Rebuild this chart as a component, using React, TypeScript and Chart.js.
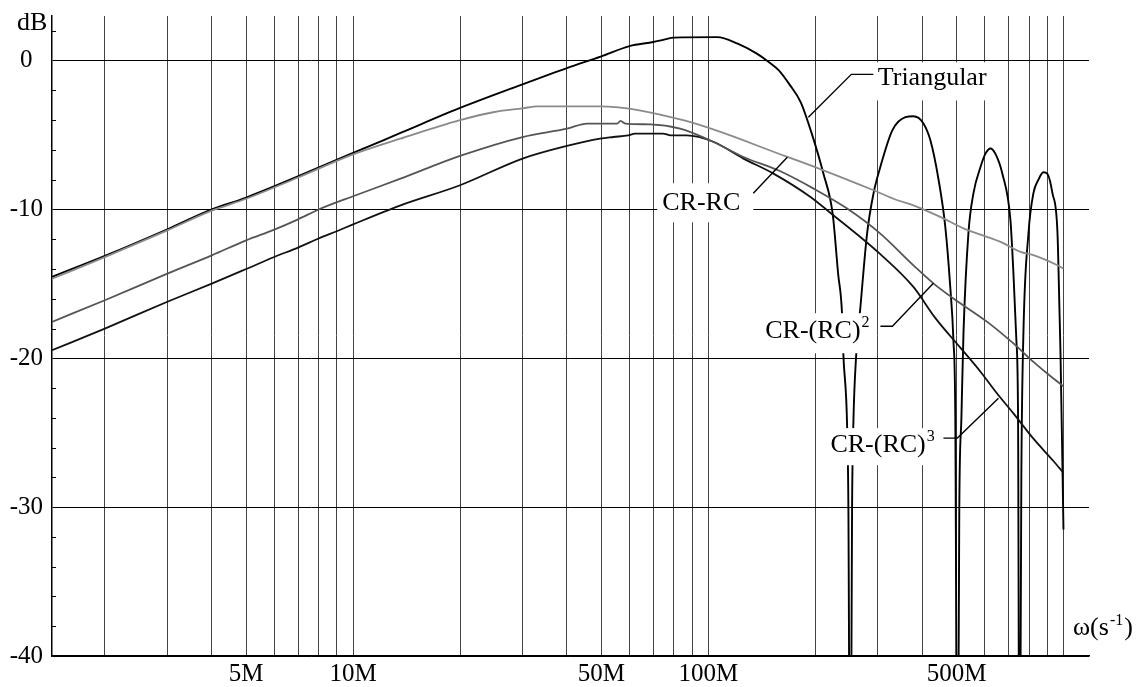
import React, { useEffect, useRef } from 'react';
import { Chart, registerables } from 'chart.js';

Chart.register(...registerables);

const FONT = "'Liberation Serif', 'Times New Roman', serif";

// x axis (frequency, in units of M = 10^6 s^-1)
const xMin = 1.42;
const xMax = 1180;
const xTickValues = [2, 3, 4, 5, 6, 7, 8, 9, 10, 20, 30, 40, 50, 60, 70, 80, 90, 100, 200, 300, 400, 500, 600, 700, 800, 900, 1000];
const xLabelValues = [5, 10, 50, 100, 500];
const xLabelTexts = ['5M', '10M', '50M', '100M', '500M'];

// y axis (dB)
const yMin = -40;
const yMax = 3;
const yTickValues = [-40, -38, -36, -34, -32, -30, -28, -26, -24, -22, -20, -18, -16, -14, -12, -10, -8, -6, -4, -2, 0, 2];
const yLabelValues = [0, -10, -20, -30, -40];

// Triangular
const triFreq = [1.42, 2, 3, 4, 5, 10, 13.6, 20, 30, 40, 50, 60, 70, 75, 80, 106, 121, 137, 148, 158, 170, 182, 195, 211, 224, 232, 238, 240, 246, 248, 251, 254, 256, 261, 268, 280, 292, 305, 330, 359, 378, 403, 422, 445, 465, 480, 490, 496, 503, 509, 516, 523, 540, 558, 584, 603, 623, 643, 673, 709, 723, 737, 745, 752, 761, 771, 797, 823, 850, 878, 901, 931, 962, 974, 981, 992, 1000];
const triDb = [-14.53, -13.12, -11.33, -10.0, -9.2, -6.2, -4.86, -3.18, -1.59, -0.5, 0.29, 0.98, 1.25, 1.41, 1.55, 1.58, 1.14, 0.47, -0.09, -0.65, -1.66, -2.78, -4.8, -7.6, -10.3, -14.3, -17.0, -19.7, -24.6, -30, -55, -30, -24.6, -19.7, -16.6, -11.6, -8.9, -7.15, -4.67, -3.8, -3.74, -4.2, -5.35, -8.0, -11.2, -15.2, -18.8, -24, -55, -30, -24, -18.3, -11.6, -8.9, -7.15, -6.25, -5.9, -6.25, -7.6, -10.7, -14.3, -18.8, -24, -55, -28, -18.5, -11.6, -8.9, -8.0, -7.5, -7.6, -8.9, -11.6, -16.6, -19.7, -26.4, -31.5];

// CR-RC
const crrcFreq = [1.42, 2, 3, 4, 5, 7, 10, 13.6, 20, 25, 30, 33, 49, 85, 167, 211, 292, 341, 378, 450, 523, 665, 757, 823, 962, 1000];
const crrcDb = [-14.65, -13.2, -11.4, -10.08, -9.28, -7.85, -6.3, -5.24, -4.0, -3.45, -3.2, -3.07, -3.07, -4.0, -6.47, -7.37, -8.71, -9.38, -9.72, -10.5, -11.27, -12.18, -12.85, -13.07, -13.75, -13.97];

// CR-(RC)^2
const rc2Freq = [1.42, 2, 3, 4, 5, 6, 7, 8, 10, 13.6, 20, 30, 40, 45.6, 55.4, 56.6, 58.4, 68.7, 83.3, 101, 125.6, 158.5, 198, 246, 305, 378, 431, 490, 610, 723, 823, 937, 1000];
const rc2Db = [-17.55, -16.1, -14.31, -13.08, -12.07, -11.35, -10.66, -10.0, -9.11, -7.93, -6.4, -5.13, -4.57, -4.23, -4.23, -4.05, -4.23, -4.28, -4.57, -5.35, -6.47, -7.4, -8.6, -9.94, -11.62, -13.75, -14.98, -15.98, -17.55, -19.0, -20.24, -21.36, -21.87];

// CR-(RC)^3
const rc3Freq = [1.42, 2, 3, 4, 5, 6, 7, 8, 9, 10, 13.6, 20, 30, 40, 49.6, 54, 59.5, 62.2, 74.5, 78.4, 87, 103.3, 125.6, 152.6, 194, 220, 305, 378, 436, 513, 584, 652, 723, 823, 937, 1000];
const rc3Db = [-19.46, -18.0, -16.2, -14.98, -14.0, -13.19, -12.56, -11.95, -11.46, -11.0, -9.72, -8.37, -6.58, -5.73, -5.24, -5.13, -5.02, -4.9, -4.9, -5.02, -5.02, -5.45, -6.58, -7.59, -9.16, -10.2, -13.0, -15.2, -17.3, -19.3, -20.9, -22.4, -23.7, -25.4, -26.9, -27.7];

// curve labels (anchors in data coordinates: [freq, dB])
const curveLabels = [
  { text: 'Triangular', sup: '', at: [300, -1.66], box: [295, 630, -0.11, -2.67], leader: [[291.6, -0.92], [252.8, -0.92], [191.3, -3.81]] },
  { text: 'CR-RC', sup: '', at: [74.2, -10.05], box: [71.8, 133.9, -8.24, -10.86], leader: [[133.9, -8.91], [166.9, -6.49]] },
  { text: 'CR-(RC)', sup: '2', at: [144.7, -18.64], box: [140.1, 297.4, -16.97, -19.66], leader: [[305.2, -17.84], [329.9, -17.84], [430.3, -14.96]] },
  { text: 'CR-(RC)', sup: '3', at: [220.7, -26.31], box: [213.6, 444.6, -24.69, -27.18], leader: [[459.2, -25.36], [502.8, -25.36], [656.1, -22.68]] },
];

const toPoints = (xs: number[], ys: number[]) => xs.map((x, i) => ({ x, y: ys[i] }));

const annotationPlugin = {
  id: 'curveAnnotations',
  afterDatasetsDraw(chart: any) {
    const ctx = chart.ctx;
    const xs = chart.scales.x;
    const ys = chart.scales.y;
    const px = (f: number) => xs.getPixelForValue(f);
    const py = (d: number) => ys.getPixelForValue(d);
    const area = chart.chartArea;
    ctx.save();
    // minor inward ticks on the dB axis
    ctx.strokeStyle = '#000';
    ctx.lineWidth = 1;
    yTickValues.forEach((v) => {
      if (v % 10 !== 0) {
        const y = Math.round(py(v)) + 0.5;
        ctx.beginPath();
        ctx.moveTo(area.left, y);
        ctx.lineTo(area.left + 4, y);
        ctx.stroke();
      }
    });
    curveLabels.forEach((a) => {
      const x0 = px(a.box[0]);
      const x1 = px(a.box[1]);
      const y0 = py(a.box[2]);
      const y1 = py(a.box[3]);
      ctx.fillStyle = '#fff';
      ctx.fillRect(x0, y0, x1 - x0, y1 - y0);
      ctx.fillStyle = '#000';
      ctx.textAlign = 'left';
      ctx.textBaseline = 'alphabetic';
      ctx.font = `26px ${FONT}`;
      const tx = px(a.at[0]);
      const ty = py(a.at[1]);
      ctx.fillText(a.text, tx, ty);
      if (a.sup) {
        const w = ctx.measureText(a.text).width;
        ctx.font = `16px ${FONT}`;
        ctx.fillText(a.sup, tx + w + 1, ty - 11);
      }
      ctx.strokeStyle = '#000';
      ctx.lineWidth = 1.4;
      ctx.beginPath();
      a.leader.forEach((p, i) => {
        const X = px(p[0]);
        const Y = py(p[1]);
        if (i === 0) ctx.moveTo(X, Y);
        else ctx.lineTo(X, Y);
      });
      ctx.stroke();
    });
    // axis titles
    ctx.fillStyle = '#000';
    ctx.font = `26px ${FONT}`;
    ctx.textAlign = 'left';
    ctx.textBaseline = 'alphabetic';
    ctx.fillText('dB', area.left - 35, area.top + 14);
    const wx = area.right - 16;
    const wy = area.bottom - 21;
    ctx.fillText('ω(s', wx, wy);
    const w1 = ctx.measureText('ω(s').width;
    ctx.font = `16px ${FONT}`;
    ctx.fillText('-1', wx + w1 + 1, wy - 10);
    const w2 = ctx.measureText('-1').width;
    ctx.font = `26px ${FONT}`;
    ctx.fillText(')', wx + w1 + w2 + 2, wy);
    ctx.restore();
  },
};

export default function App() {
  const canvasRef = useRef<HTMLCanvasElement | null>(null);

  useEffect(() => {
    const canvas = canvasRef.current;
    if (!canvas) return;
    const line = (label: string, xs: number[], ys: number[], color: string, width: number) => ({
      label,
      data: toPoints(xs, ys),
      borderColor: color,
      borderWidth: width,
      pointRadius: 0,
      fill: false,
      cubicInterpolationMode: 'monotone' as const,
    });
    const chart = new Chart(canvas, {
      type: 'line',
      data: {
        datasets: [
          line('CR-RC', crrcFreq, crrcDb, '#8a8a8a', 1.8),
          line('CR-(RC)^2', rc2Freq, rc2Db, '#555555', 1.8),
          line('CR-(RC)^3', rc3Freq, rc3Db, '#111111', 1.8),
          line('Triangular', triFreq, triDb, '#000000', 1.9),
        ],
      },
      options: {
        animation: false,
        responsive: false,
        maintainAspectRatio: false,
        devicePixelRatio: 1,
        events: [],
        parsing: false,
        layout: { padding: { top: 16, right: 49, left: 0, bottom: 0 } },
        plugins: { legend: { display: false }, tooltip: { enabled: false } },
        scales: {
          x: {
            type: 'logarithmic',
            min: xMin,
            max: xMax,
            afterBuildTicks: (s: any) => {
              s.ticks = xTickValues.map((v) => ({ value: v }));
            },
            afterFit: (s: any) => {
              s.height = 31;
              s.paddingLeft = 0;
              s.paddingRight = 0;
            },
            grid: { color: '#444444', lineWidth: 1, drawTicks: false },
            border: { display: true, color: '#000000', width: 1.5 },
            ticks: {
              autoSkip: false,
              maxRotation: 0,
              minRotation: 0,
              padding: 3,
              color: '#000000',
              font: { size: 25, family: FONT },
              callback: (v: any) => {
                const i = xLabelValues.indexOf(Number(v));
                return i >= 0 ? xLabelTexts[i] : '';
              },
            },
          },
          y: {
            type: 'linear',
            min: yMin,
            max: yMax,
            afterBuildTicks: (s: any) => {
              s.ticks = yTickValues.map((v) => ({ value: v }));
            },
            afterFit: (s: any) => {
              s.width = 52;
              s.paddingTop = 0;
              s.paddingBottom = 0;
            },
            grid: {
              drawTicks: false,
              lineWidth: 1,
              color: (c: any) => (c.tick && c.tick.value % 10 === 0 ? '#000000' : 'rgba(0,0,0,0)'),
            },
            border: { display: true, color: '#000000', width: 1.5 },
            ticks: {
              autoSkip: false,
              crossAlign: 'center',
              padding: 9,
              color: '#000000',
              font: { size: 25, family: FONT },
              callback: (v: any) => (yLabelValues.indexOf(Number(v)) >= 0 ? String(v) : ''),
            },
          },
        },
      },
      plugins: [annotationPlugin],
    } as any);
    return () => chart.destroy();
  }, []);

  return (
    <div style={{ position: 'absolute', left: 0, top: 0, width: 1138, height: 687, background: '#fff' }}>
      <canvas ref={canvasRef} width={1138} height={687} style={{ width: 1138, height: 687, display: 'block' }} />
    </div>
  );
}
